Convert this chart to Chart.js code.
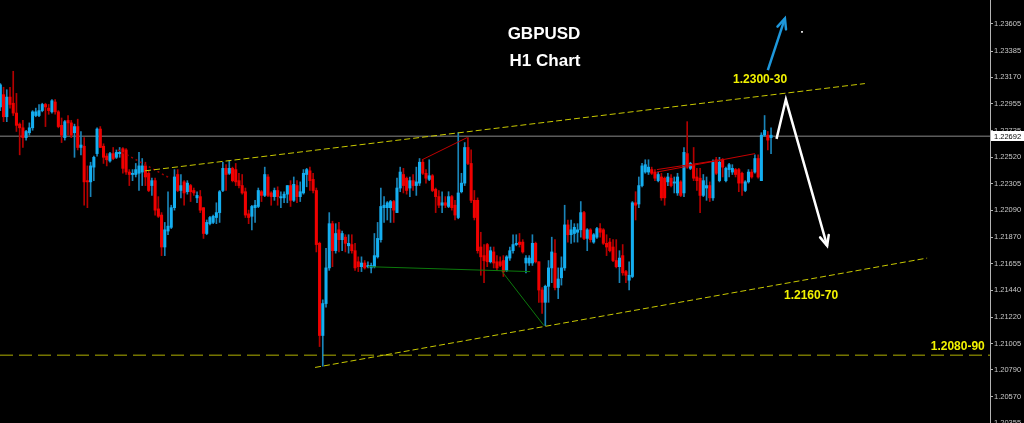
<!DOCTYPE html>
<html>
<head>
<meta charset="utf-8">
<title>GBPUSD H1 Chart</title>
<script src="https://cdn.jsdelivr.net/npm/chart.js@4.4.1/dist/chart.umd.min.js"></script>
<style>
  html, body { margin: 0; padding: 0; background: #000; }
  #wrap { width: 1024px; height: 423px; position: relative; }
</style>
</head>
<body>
<div id="wrap"><canvas id="chart"></canvas></div>
<script>
// hourly candles (index 0 = oldest)
const open = [
  1.2293, 1.2303, 1.2285, 1.2301, 1.2296, 1.2288, 1.2279, 1.2276, 1.2268, 1.2272,
  1.2276, 1.2286, 1.2286, 1.2290, 1.2295, 1.2292, 1.2289, 1.2297, 1.2289, 1.2278,
  1.2268, 1.2282, 1.2280, 1.2272, 1.2277, 1.2260, 1.2261, 1.2233, 1.2232, 1.2244,
  1.2255, 1.2275, 1.2261, 1.2253, 1.2249, 1.2255, 1.2252, 1.2255, 1.2259, 1.2258,
  1.2240, 1.2238, 1.2238, 1.2239, 1.2240, 1.2245, 1.2239, 1.2229, 1.2233, 1.2210,
  1.2205, 1.2179, 1.2192, 1.2195, 1.2211, 1.2238, 1.2225, 1.2232, 1.2224, 1.2229,
  1.2225, 1.2219, 1.2220, 1.2211, 1.2190, 1.2198, 1.2199, 1.2203, 1.2207, 1.2225,
  1.2243, 1.2239, 1.2243, 1.2242, 1.2233, 1.2229, 1.2224, 1.2206, 1.2204, 1.2211,
  1.2212, 1.2224, 1.2221, 1.2236, 1.2223, 1.2220, 1.2225, 1.2219, 1.2219, 1.2222,
  1.2229, 1.2217, 1.2229, 1.2220, 1.2223, 1.2238, 1.2241, 1.2234, 1.2225, 1.2182,
  1.2107, 1.2133, 1.2162, 1.2198, 1.2176, 1.2193, 1.2185, 1.2187, 1.2180, 1.2181,
  1.2176, 1.2167, 1.2163, 1.2166, 1.2163, 1.2162, 1.2163, 1.2171, 1.2185, 1.2211,
  1.2211, 1.2211, 1.2216, 1.2207, 1.2227, 1.2238, 1.2235, 1.2227, 1.2233, 1.2229,
  1.2231, 1.2248, 1.2239, 1.2234, 1.2237, 1.2226, 1.2220, 1.2213, 1.2215, 1.2212,
  1.2220, 1.2213, 1.2203, 1.2224, 1.2231, 1.2260, 1.2247, 1.2217, 1.2217, 1.2179,
  1.2172, 1.2181, 1.2167, 1.2175, 1.2167, 1.2167, 1.2168, 1.2160, 1.2170, 1.2176,
  1.2181, 1.2183, 1.2183, 1.2166, 1.2166, 1.2166, 1.2182, 1.2167, 1.2144, 1.2134,
  1.2147, 1.2162, 1.2174, 1.2146, 1.2154, 1.2162, 1.2197, 1.2189, 1.2190, 1.2191,
  1.2193, 1.2207, 1.2186, 1.2193, 1.2183, 1.2187, 1.2194, 1.2193, 1.2182, 1.2183,
  1.2179, 1.2168, 1.2163, 1.2172, 1.2159, 1.2152, 1.2155, 1.2215, 1.2214, 1.2229,
  1.2240, 1.2240, 1.2242, 1.2240, 1.2233, 1.2236, 1.2235, 1.2232, 1.2235, 1.2231,
  1.2223, 1.2232, 1.2223, 1.2255, 1.2243, 1.2246, 1.2236, 1.2235, 1.2221, 1.2227,
  1.2229, 1.2219, 1.2250, 1.2233, 1.2250, 1.2233, 1.2242, 1.2240, 1.2242, 1.2242,
  1.2239, 1.2225, 1.2232, 1.2240, 1.2240, 1.2251, 1.2233, 1.2270, 1.2270, 1.2268
];
const high = [
  1.2312, 1.2309, 1.2307, 1.2309, 1.2322, 1.2304, 1.2280, 1.2282, 1.2274, 1.2280,
  1.2290, 1.2292, 1.2295, 1.2296, 1.2296, 1.2295, 1.2299, 1.2299, 1.2290, 1.2284,
  1.2282, 1.2286, 1.2282, 1.2279, 1.2283, 1.2273, 1.2268, 1.2245, 1.2248, 1.2253,
  1.2276, 1.2277, 1.2263, 1.2255, 1.2256, 1.2260, 1.2258, 1.2260, 1.2260, 1.2259,
  1.2242, 1.2242, 1.2247, 1.2256, 1.2251, 1.2248, 1.2241, 1.2235, 1.2235, 1.2220,
  1.2207, 1.2199, 1.2224, 1.2213, 1.2242, 1.2242, 1.2238, 1.2233, 1.2233, 1.2230,
  1.2227, 1.2224, 1.2225, 1.2211, 1.2201, 1.2204, 1.2205, 1.2215, 1.2225, 1.2248,
  1.2246, 1.2249, 1.2244, 1.2247, 1.2239, 1.2238, 1.2227, 1.2209, 1.2213, 1.2217,
  1.2227, 1.2225, 1.2244, 1.2238, 1.2224, 1.2227, 1.2228, 1.2224, 1.2224, 1.2229,
  1.2233, 1.2236, 1.2233, 1.2232, 1.2242, 1.2243, 1.2244, 1.2239, 1.2227, 1.2183,
  1.2136, 1.2178, 1.2207, 1.2200, 1.2198, 1.2199, 1.2192, 1.2189, 1.2189, 1.2189,
  1.2182, 1.2171, 1.2171, 1.2168, 1.2167, 1.2166, 1.2190, 1.2199, 1.2227, 1.2220,
  1.2216, 1.2217, 1.2217, 1.2235, 1.2244, 1.2243, 1.2236, 1.2236, 1.2238, 1.2244,
  1.2251, 1.2250, 1.2242, 1.2250, 1.2238, 1.2227, 1.2225, 1.2224, 1.2220, 1.2224,
  1.2221, 1.2217, 1.2272, 1.2239, 1.2264, 1.2268, 1.2258, 1.2225, 1.2219, 1.2191,
  1.2181, 1.2182, 1.2179, 1.2179, 1.2172, 1.2171, 1.2172, 1.2172, 1.2179, 1.2189,
  1.2189, 1.2190, 1.2185, 1.2172, 1.2172, 1.2189, 1.2183, 1.2167, 1.2146, 1.2148,
  1.2168, 1.2187, 1.2185, 1.2162, 1.2171, 1.2213, 1.2201, 1.2201, 1.2198, 1.2198,
  1.2216, 1.2208, 1.2194, 1.2194, 1.2190, 1.2195, 1.2198, 1.2194, 1.2189, 1.2186,
  1.2185, 1.2185, 1.2176, 1.2181, 1.2160, 1.2167, 1.2216, 1.2224, 1.2236, 1.2247,
  1.2250, 1.2250, 1.2244, 1.2242, 1.2240, 1.2239, 1.2236, 1.2239, 1.2238, 1.2236,
  1.2239, 1.2233, 1.2260, 1.2281, 1.2248, 1.2260, 1.2243, 1.2243, 1.2238, 1.2236,
  1.2232, 1.2250, 1.2252, 1.2252, 1.2251, 1.2244, 1.2247, 1.2246, 1.2243, 1.2243,
  1.2240, 1.2233, 1.2242, 1.2242, 1.2254, 1.2254, 1.2272, 1.2286, 1.2273, 1.2276
];
const low = [
  1.2290, 1.2281, 1.2281, 1.2292, 1.2286, 1.2273, 1.2254, 1.2260, 1.2266, 1.2270,
  1.2274, 1.2285, 1.2285, 1.2289, 1.2277, 1.2287, 1.2288, 1.2287, 1.2276, 1.2264,
  1.2266, 1.2270, 1.2268, 1.2252, 1.2258, 1.2254, 1.2213, 1.2211, 1.2220, 1.2233,
  1.2253, 1.2260, 1.2247, 1.2245, 1.2248, 1.2250, 1.2251, 1.2252, 1.2239, 1.2238,
  1.2229, 1.2233, 1.2236, 1.2225, 1.2229, 1.2229, 1.2224, 1.2221, 1.2205, 1.2203,
  1.2172, 1.2172, 1.2189, 1.2194, 1.2209, 1.2224, 1.2219, 1.2213, 1.2222, 1.2216,
  1.2221, 1.2215, 1.2207, 1.2186, 1.2189, 1.2197, 1.2198, 1.2198, 1.2199, 1.2224,
  1.2225, 1.2238, 1.2232, 1.2229, 1.2227, 1.2222, 1.2203, 1.2198, 1.2193, 1.2199,
  1.2211, 1.2216, 1.2220, 1.2220, 1.2213, 1.2217, 1.2213, 1.2211, 1.2215, 1.2215,
  1.2212, 1.2216, 1.2215, 1.2216, 1.2222, 1.2228, 1.2225, 1.2223, 1.2175, 1.2098,
  1.2082, 1.2130, 1.2160, 1.2163, 1.2174, 1.2175, 1.2176, 1.2175, 1.2174, 1.2174,
  1.2160, 1.2159, 1.2159, 1.2161, 1.2162, 1.2158, 1.2162, 1.2170, 1.2183, 1.2199,
  1.2201, 1.2199, 1.2199, 1.2207, 1.2224, 1.2223, 1.2222, 1.2220, 1.2225, 1.2221,
  1.2229, 1.2238, 1.2231, 1.2233, 1.2224, 1.2207, 1.2211, 1.2207, 1.2211, 1.2211,
  1.2209, 1.2201, 1.2202, 1.2223, 1.2229, 1.2246, 1.2215, 1.2201, 1.2174, 1.2156,
  1.2150, 1.2163, 1.2166, 1.2162, 1.2160, 1.2163, 1.2155, 1.2159, 1.2168, 1.2174,
  1.2180, 1.2179, 1.2174, 1.2158, 1.2164, 1.2164, 1.2166, 1.2134, 1.2125, 1.2115,
  1.2134, 1.2150, 1.2144, 1.2137, 1.2148, 1.2160, 1.2183, 1.2182, 1.2183, 1.2183,
  1.2187, 1.2185, 1.2176, 1.2183, 1.2182, 1.2186, 1.2187, 1.2181, 1.2172, 1.2175,
  1.2167, 1.2162, 1.2150, 1.2156, 1.2150, 1.2144, 1.2154, 1.2201, 1.2211, 1.2228,
  1.2239, 1.2238, 1.2238, 1.2233, 1.2232, 1.2217, 1.2213, 1.2229, 1.2228, 1.2223,
  1.2221, 1.2220, 1.2220, 1.2243, 1.2242, 1.2233, 1.2225, 1.2207, 1.2220, 1.2217,
  1.2216, 1.2217, 1.2238, 1.2232, 1.2236, 1.2232, 1.2236, 1.2238, 1.2236, 1.2224,
  1.2221, 1.2224, 1.2231, 1.2235, 1.2239, 1.2235, 1.2233, 1.2269, 1.2258, 1.2255
];
const close = [
  1.2311, 1.2285, 1.2301, 1.2295, 1.2288, 1.2278, 1.2276, 1.2268, 1.2273, 1.2276,
  1.2289, 1.2289, 1.2290, 1.2295, 1.2293, 1.2290, 1.2298, 1.2289, 1.2277, 1.2270,
  1.2281, 1.2280, 1.2270, 1.2277, 1.2260, 1.2262, 1.2232, 1.2232, 1.2245, 1.2252,
  1.2275, 1.2260, 1.2252, 1.2250, 1.2255, 1.2251, 1.2256, 1.2256, 1.2243, 1.2240,
  1.2238, 1.2239, 1.2242, 1.2245, 1.2245, 1.2236, 1.2225, 1.2233, 1.2209, 1.2204,
  1.2179, 1.2193, 1.2196, 1.2211, 1.2236, 1.2225, 1.2229, 1.2223, 1.2231, 1.2224,
  1.2223, 1.2221, 1.2209, 1.2190, 1.2199, 1.2203, 1.2204, 1.2207, 1.2224, 1.2243,
  1.2238, 1.2243, 1.2233, 1.2232, 1.2229, 1.2223, 1.2205, 1.2203, 1.2212, 1.2213,
  1.2225, 1.2221, 1.2238, 1.2221, 1.2220, 1.2225, 1.2220, 1.2220, 1.2222, 1.2229,
  1.2217, 1.2230, 1.2220, 1.2224, 1.2239, 1.2242, 1.2233, 1.2225, 1.2181, 1.2107,
  1.2133, 1.2162, 1.2198, 1.2176, 1.2190, 1.2185, 1.2190, 1.2182, 1.2182, 1.2176,
  1.2162, 1.2163, 1.2166, 1.2162, 1.2164, 1.2164, 1.2172, 1.2186, 1.2212, 1.2213,
  1.2215, 1.2216, 1.2209, 1.2227, 1.2240, 1.2229, 1.2225, 1.2233, 1.2229, 1.2232,
  1.2248, 1.2239, 1.2235, 1.2237, 1.2225, 1.2220, 1.2213, 1.2215, 1.2213, 1.2220,
  1.2211, 1.2205, 1.2223, 1.2231, 1.2260, 1.2247, 1.2217, 1.2203, 1.2176, 1.2171,
  1.2168, 1.2167, 1.2176, 1.2166, 1.2162, 1.2164, 1.2159, 1.2171, 1.2176, 1.2181,
  1.2182, 1.2181, 1.2175, 1.2170, 1.2170, 1.2182, 1.2167, 1.2144, 1.2134, 1.2147,
  1.2162, 1.2175, 1.2146, 1.2153, 1.2162, 1.2197, 1.2189, 1.2193, 1.2195, 1.2193,
  1.2207, 1.2186, 1.2193, 1.2185, 1.2189, 1.2194, 1.2191, 1.2182, 1.2179, 1.2176,
  1.2168, 1.2163, 1.2170, 1.2158, 1.2156, 1.2156, 1.2215, 1.2213, 1.2229, 1.2245,
  1.2246, 1.2244, 1.2239, 1.2235, 1.2238, 1.2219, 1.2219, 1.2236, 1.2229, 1.2232,
  1.2236, 1.2221, 1.2256, 1.2244, 1.2247, 1.2235, 1.2233, 1.2221, 1.2233, 1.2229,
  1.2219, 1.2248, 1.2239, 1.2248, 1.2244, 1.2243, 1.2246, 1.2243, 1.2238, 1.2231,
  1.2231, 1.2232, 1.2240, 1.2236, 1.2251, 1.2236, 1.2270, 1.2274, 1.2266, 1.2270
];

// price axis
const priceTicks = [1.23605, 1.23385, 1.23170, 1.22955, 1.22735, 1.22520, 1.22305, 1.22090,
  1.21870, 1.21655, 1.21440, 1.21220, 1.21005, 1.20790, 1.20570, 1.20355];
const lastPrice = 1.22692;

// drawn objects, in (bar index, price)
const upperChannel = [{x: 44.9, y: 1.2241}, {x: 268.1, y: 1.2312}];
const lowerChannel = [{x: 97.6, y: 1.2081}, {x: 287.4, y: 1.2170}];
const supportLevel = 1.2091;
const greenFlat = [{x: 114.0, y: 1.2163}, {x: 164.3, y: 1.2159}];
const greenDrop = [{x: 155.6, y: 1.2159}, {x: 168.6, y: 1.2115}];
const redPeak = [{x: 130.8, y: 1.2250}, {x: 144.7, y: 1.2268}];
const redDots = [{x: 36.5, y: 1.2258}, {x: 52.6, y: 1.2235}];
const redRangeA = [{x: 203.6, y: 1.2240}, {x: 234.0, y: 1.2255}];
const redRangeB = [{x: 203.6, y: 1.2242}, {x: 223.8, y: 1.2250}];
const whiteArrow = [{x: 240.7, y: 1.2267}, {x: 243.6, y: 1.2299}, {x: 256.4, y: 1.2180}];
const blueArrow = [{x: 238.0, y: 1.2323}, {x: 243.3, y: 1.2365}];
const whiteDot = [{x: 248.6, y: 1.2354}];

const titleLines = [
  {text: "GBPUSD", x: 168.6, y: 1.2352},
  {text: "H1 Chart", x: 168.9, y: 1.2330}
];
const levelNotes = [
  {text: "1.2300-30", x: 235.6, y: 1.2315},
  {text: "1.2160-70", x: 251.4, y: 1.2139},
  {text: "1.2080-90", x: 296.9, y: 1.2098}
];

const xMin = -0.1, xMax = 306.9;
const yMin = 1.20358, yMax = 1.23800;

const UP_BODY = "#14aef0", UP_WICK = "#1a84b8";
const DN_BODY = "#f00000", DN_WICK = "#b40000";
const AXIS_FONT = "7.5px 'Liberation Sans', Arial, sans-serif";
const isUp = i => close[i] >= open[i];

const wickData = open.map((_, i) => ({x: i, y: [low[i], high[i]]}));
const bodyData = open.map((_, i) => ({x: i, y: [open[i], close[i]]}));

function lineSet(data, color, width, dash, extra) {
    return Object.assign({
        type: "line",
        data: data,
        borderColor: color,
        borderWidth: width,
        borderDash: dash || [],
        pointRadius: 0,
        fill: false,
        tension: 0,
        order: 0
    }, extra || {});
}

// arrow heads, captions, price labels and the price tag on the axis
const overlay = {
    id: "overlay",
    afterDatasetsDraw(chart) {
        const ctx = chart.ctx;
        chart.data.datasets.forEach((ds, i) => {
            if (!ds.arrowHead) return;
            const pts = chart.getDatasetMeta(i).data;
            const a = pts[pts.length - 2], b = pts[pts.length - 1];
            const ang = Math.atan2(b.y - a.y, b.x - a.x);
            const len = 11, spread = 0.42;
            ctx.save();
            ctx.strokeStyle = ds.borderColor;
            ctx.lineWidth = ds.borderWidth;
            ctx.lineCap = "round";
            ctx.beginPath();
            ctx.moveTo(b.x - len * Math.cos(ang - spread), b.y - len * Math.sin(ang - spread));
            ctx.lineTo(b.x, b.y);
            ctx.lineTo(b.x - len * Math.cos(ang + spread), b.y - len * Math.sin(ang + spread));
            ctx.stroke();
            ctx.restore();
        });
    },
    afterDraw(chart) {
        const ctx = chart.ctx;
        const xs = chart.scales.x, ys = chart.scales.y;
        ctx.save();
        ctx.textAlign = "center";
        ctx.textBaseline = "middle";
        ctx.fillStyle = "#ffffff";
        ctx.font = "bold 17px 'Liberation Sans', Arial, sans-serif";
        titleLines.forEach(t => ctx.fillText(t.text, xs.getPixelForValue(t.x), ys.getPixelForValue(t.y)));
        ctx.fillStyle = "#f2f200";
        ctx.font = "bold 12px 'Liberation Sans', Arial, sans-serif";
        levelNotes.forEach(t => ctx.fillText(t.text, xs.getPixelForValue(t.x), ys.getPixelForValue(t.y)));

        // price labels beside the axis ticks
        ctx.textAlign = "left";
        ctx.font = AXIS_FONT;
        ctx.fillStyle = "#c8c8c8";
        ys.ticks.forEach(t => ctx.fillText(t.value.toFixed(5), ys.left + 4, ys.getPixelForValue(t.value)));

        // current price tag
        const py = Math.round(ys.getPixelForValue(lastPrice));
        ctx.fillStyle = "#ffffff";
        ctx.fillRect(ys.left + 1, py - 5, ys.right - ys.left - 1, 10);
        ctx.fillStyle = "#000000";
        ctx.fillText(lastPrice.toFixed(5), ys.left + 4, py + 0.5);
        ctx.restore();
    }
};

new Chart(document.getElementById("chart"), {
    type: "bar",
    data: {
        datasets: [
            lineSet([{x: xMin, y: lastPrice}, {x: xMax, y: lastPrice}], "#8a8a8a", 1, null, {order: 3}),
            {
                data: wickData,
                barThickness: 1,
                grouped: false,
                backgroundColor: ctx => isUp(ctx.dataIndex) ? UP_WICK : DN_WICK,
                order: 2
            },
            {
                data: bodyData,
                barThickness: 2.4,
                minBarLength: 1,
                grouped: false,
                backgroundColor: ctx => isUp(ctx.dataIndex) ? UP_BODY : DN_BODY,
                order: 1
            },
            lineSet(upperChannel, "#c8c800", 1, [6, 3]),
            lineSet(lowerChannel, "#c8c800", 1, [6, 3]),
            lineSet([{x: xMin, y: supportLevel}, {x: xMax, y: supportLevel}], "#b0b000", 1, [13, 6]),
            lineSet(greenFlat, "#0c7a0c", 1),
            lineSet(greenDrop, "#0c7a0c", 1),
            lineSet(redPeak, "#c00000", 1),
            lineSet(redDots, "#a00000", 1.5, [2, 3]),
            lineSet(redRangeA, "#c80000", 1),
            lineSet(redRangeB, "#c80000", 1),
            lineSet(whiteArrow, "#ffffff", 2.5, null, {arrowHead: true}),
            lineSet(blueArrow, "#1e98dc", 2.5, null, {arrowHead: true}),
            lineSet(whiteDot, "#ffffff", 0, null, {showLine: false, pointRadius: 1.2, pointBorderWidth: 0, pointStyle: "rect", pointBackgroundColor: "#ffffff"})
        ]
    },
    options: {
        responsive: true,
        maintainAspectRatio: false,
        devicePixelRatio: 1,
        animation: false,
        events: [],
        layout: { padding: 0, autoPadding: false },
        plugins: {
            legend: { display: false },
            tooltip: { enabled: false }
        },
        scales: {
            x: {
                type: "linear",
                min: xMin,
                max: xMax,
                offset: false,
                display: false
            },
            y: {
                position: "right",
                min: yMin,
                max: yMax,
                afterBuildTicks: s => { s.ticks = priceTicks.map(v => ({value: v})); },
                afterFit: s => { s.width = 34; s.paddingTop = 0; s.paddingBottom = 0; },
                ticks: { display: false },
                grid: { drawOnChartArea: false, drawTicks: true, tickLength: 3, color: "#b4b4b4" },
                border: { display: true, color: "#b4b4b4" }
            }
        }
    },
    plugins: [overlay]
});
</script>
</body>
</html>
